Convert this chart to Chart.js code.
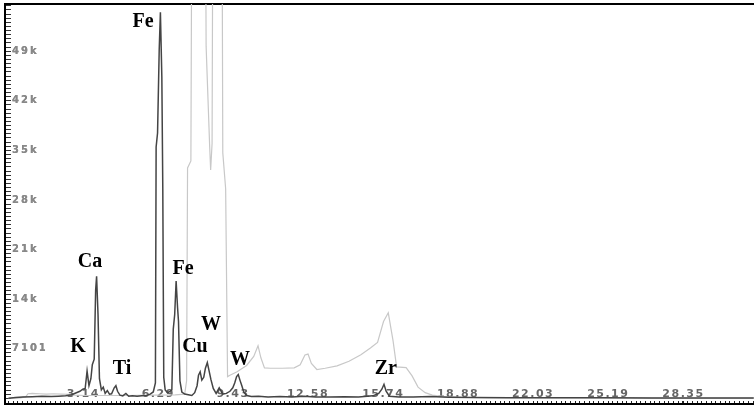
<!DOCTYPE html>
<html>
<head>
<meta charset="utf-8">
<script src="https://cdn.jsdelivr.net/npm/chart.js@4.4.0/dist/chart.umd.min.js"></script>
<style>
html,body{margin:0;padding:0;background:#fff;}
#wrap{width:754px;height:407px;}
</style>
</head>
<body>
<div id="wrap"><canvas id="c" width="754" height="407"></canvas></div>
<script>
// Sample spectrum (dark trace): energy in keV, counts
const sampleEnergy = [
  0.00, 0.30, 0.60, 1.00, 1.40, 1.80, 2.10, 2.40, 2.65, 2.85,
  3.00, 3.12, 3.22, 3.30, 3.38, 3.46, 3.52, 3.60, 3.66, 3.70,
  3.76, 3.82, 3.90, 3.98, 4.06, 4.15, 4.24, 4.33, 4.44, 4.51,
  4.58, 4.68, 4.80, 4.93, 5.05, 5.20, 5.40, 5.60, 5.80, 5.95,
  6.08, 6.17, 6.20, 6.26, 6.33, 6.38, 6.44, 6.48, 6.52, 6.58,
  6.68, 6.78, 6.86, 6.92, 6.98, 7.04, 7.10, 7.14, 7.20, 7.28,
  7.40, 7.55, 7.70, 7.82, 7.92, 7.98, 8.05, 8.12, 8.20, 8.27,
  8.35, 8.42, 8.50, 8.60, 8.72, 8.85, 9.00, 9.15, 9.30, 9.42,
  9.50, 9.58, 9.65, 9.72, 9.80, 9.88, 10.00, 10.20, 10.50, 10.90,
  11.40, 11.90, 12.40, 12.90, 13.50, 14.10, 14.70, 15.30, 15.55, 15.68,
  15.77, 15.86, 16.00, 16.40, 17.00, 17.70, 18.50, 19.50, 21.00, 23.00,
  25.00, 27.00, 29.00, 31.30
];
const sampleCounts = [
  0, 120, 180, 220, 280, 240, 300, 350, 500, 800,
  1000, 1300, 1400, 3900, 1800, 2800, 4800, 5600, 15500, 17460,
  12000, 2800, 1200, 1600, 700, 1100, 600, 650, 1500, 1800,
  1000, 450, 350, 700, 300, 350, 300, 350, 400, 600,
  900, 2200, 36000, 38000, 50000, 55300, 46000, 30000, 3000, 1200,
  800, 1000, 1200, 9900, 12000, 16800, 13000, 11000, 2500, 900,
  600, 500, 400, 800, 1800, 3300, 3800, 2600, 3000, 4300,
  5100, 4000, 2700, 1400, 700, 1500, 600, 700, 1000, 1500,
  2200, 3100, 3400, 2600, 1800, 900, 400, 250, 300, 200,
  250, 180, 300, 200, 180, 220, 200, 350, 700, 1300,
  2000, 1000, 300, 200, 180, 250, 150, 100, 90, 70,
  60, 50, 40, 30
];
// Reference spectrum (light trace)
const refEnergy = [
  0.00, 0.50, 0.72, 0.82, 1.00, 1.30, 1.60, 1.90, 2.20, 2.50,
  2.80, 3.20, 4.00, 5.00, 6.00, 7.00, 7.40, 7.48, 7.52, 7.66,
  7.72, 8.25, 8.30, 8.45, 8.49, 8.55, 8.60, 8.95, 9.00, 9.12,
  9.20, 9.30, 9.60, 10.00, 10.30, 10.48, 10.60, 10.75, 11.00, 11.50,
  12.00, 12.25, 12.45, 12.58, 12.72, 12.95, 13.30, 13.80, 14.30, 14.80,
  15.20, 15.50, 15.75, 15.95, 16.15, 16.30, 16.70, 16.95, 17.20, 17.50,
  17.80, 18.30, 19.00, 20.00, 22.00, 25.00, 28.00, 31.30
];
const refCounts = [
  0, 60, 200, 650, 700, 650, 600, 650, 600, 550,
  450, 400, 400, 400, 450, 500, 600, 2500, 33000, 34000,
  90000, 90000, 50400, 36000, 32700, 36500, 90000, 90000, 35150, 30000,
  3100, 3300, 3800, 4700, 6000, 7530, 5800, 4360, 4300, 4300,
  4350, 4800, 6200, 6330, 5000, 4120, 4300, 4650, 5300, 6230,
  7200, 8000, 11000, 12240, 8250, 4500, 4400, 3210, 1600, 800,
  450, 250, 150, 100, 80, 50, 30, 20
];
const xTickValues = [3.14, 6.29, 9.43, 12.58, 15.74, 18.88, 22.03, 25.19, 28.35];
const xTickLabels = ['3.14', '6.29', '9.43', '12.58', '15.74', '18.88', '22.03', '25.19', '28.35'];
const yTickValues = [7101, 14202, 21303, 28404, 35505, 42606, 49707];
const yTickLabels = ['7101', '14k', '21k', '28k', '35k', '42k', '49k'];
const peakNames  = ['Fe', 'Ca', 'K', 'Ti', 'Fe', 'W', 'Cu', 'W', 'Zr'];
const peakEnergy = [5.65, 3.42, 2.92, 4.77, 7.33, 8.50, 7.83, 9.72, 15.85];
const peakCounts = [53950, 19480, 7385, 4220, 18470, 10550, 7385, 5510, 4220];

const X_MIN = -0.147, X_MAX = 31.31, Y_MIN = -820, Y_MAX = 56470;
const X_MINOR = 3.1475 / 16, Y_MINOR = 7101 / 12;

const toXY = (ex, cy) => ex.map((e, i) => ({x: e, y: cy[i]}));

// x labels: mild spacing; y labels (drawn in a later layer): wider spacing
const spacingPlugin = {
  id: 'spacing',
  beforeDraw(chart) { chart.ctx.letterSpacing = '1.5px'; },
  beforeDatasetsDraw(chart) { chart.ctx.letterSpacing = '2px'; },
  afterDraw(chart) { chart.ctx.letterSpacing = '0px'; }
};
const peakLabelPlugin = {
  id: 'peakLabels',
  afterDatasetsDraw(chart) {
    const {ctx, scales: {x, y}} = chart;
    ctx.save();
    ctx.letterSpacing = '0px';
    ctx.font = 'bold 20px "Liberation Serif"';
    ctx.fillStyle = '#000';
    ctx.textAlign = 'center';
    ctx.textBaseline = 'middle';
    peakNames.forEach((n, i) => ctx.fillText(n, x.getPixelForValue(peakEnergy[i]), y.getPixelForValue(peakCounts[i])));
    ctx.restore();
  }
};

new Chart(document.getElementById('c'), {
  type: 'line',
  data: {
    datasets: [
      {data: toXY(sampleEnergy, sampleCounts), borderColor: '#444', borderWidth: 1.5, pointRadius: 0, tension: 0, fill: false},
      {data: toXY(refEnergy, refCounts), borderColor: '#c8c8c8', borderWidth: 1.2, pointRadius: 0, tension: 0, fill: false}
    ]
  },
  options: {
    responsive: false,
    animation: false,
    devicePixelRatio: 1,
    layout: {padding: {left: 5, top: 4, right: 0, bottom: 0}},
    plugins: {legend: {display: false}, tooltip: {enabled: false}},
    scales: {
      x: {
        type: 'linear', position: 'bottom', min: X_MIN, max: X_MAX,
        afterBuildTicks: s => {
          const t = [];
          for (let i = 0; i * X_MINOR <= X_MAX; i++) t.push({value: +(i * X_MINOR).toFixed(4)});
          xTickValues.forEach(v => t.push({value: v}));
          t.sort((a, b) => a.value - b.value);
          s.ticks = t;
        },
        afterFit: s => { s.paddingLeft = 0; s.paddingRight = 0; },
        ticks: {
          autoSkip: false, maxRotation: 0, minRotation: 0, mirror: true, padding: 3,
          font: {family: 'DejaVu Sans', size: 11, weight: 'bold'}, color: '#666',
          callback: v => { const i = xTickValues.indexOf(v); return i >= 0 ? xTickLabels[i] : ''; }
        },
        grid: {drawOnChartArea: false, tickLength: -3, tickColor: '#222', tickWidth: 1},
        border: {color: '#000', width: 2}
      },
      x2: {
        type: 'linear', position: 'top', min: X_MIN, max: X_MAX,
        ticks: {display: false},
        grid: {drawOnChartArea: false, drawTicks: false},
        border: {color: '#000', width: 2}
      },
      y: {
        type: 'linear', position: 'left', min: Y_MIN, max: Y_MAX,
        afterBuildTicks: s => {
          const t = [];
          for (let i = 0; i * Y_MINOR <= Y_MAX; i++) t.push({value: +(i * Y_MINOR).toFixed(2)});
          yTickValues.forEach(v => t.push({value: v}));
          t.sort((a, b) => a.value - b.value);
          s.ticks = t;
        },
        afterFit: s => { s.paddingTop = 0; s.paddingBottom = 0; s.width = 0; },
        ticks: {
          z: 1, autoSkip: false, mirror: true, padding: 7,
          font: {family: 'DejaVu Sans', size: 10, weight: 'bold'}, color: '#888',
          callback: v => { const i = yTickValues.indexOf(v); return i >= 0 ? yTickLabels[i] : ''; }
        },
        grid: {drawOnChartArea: false, tickLength: -6, tickColor: '#333', tickWidth: 1},
        border: {color: '#000', width: 2}
      }
    }
  },
  plugins: [spacingPlugin, peakLabelPlugin]
});
</script>
</body>
</html>
